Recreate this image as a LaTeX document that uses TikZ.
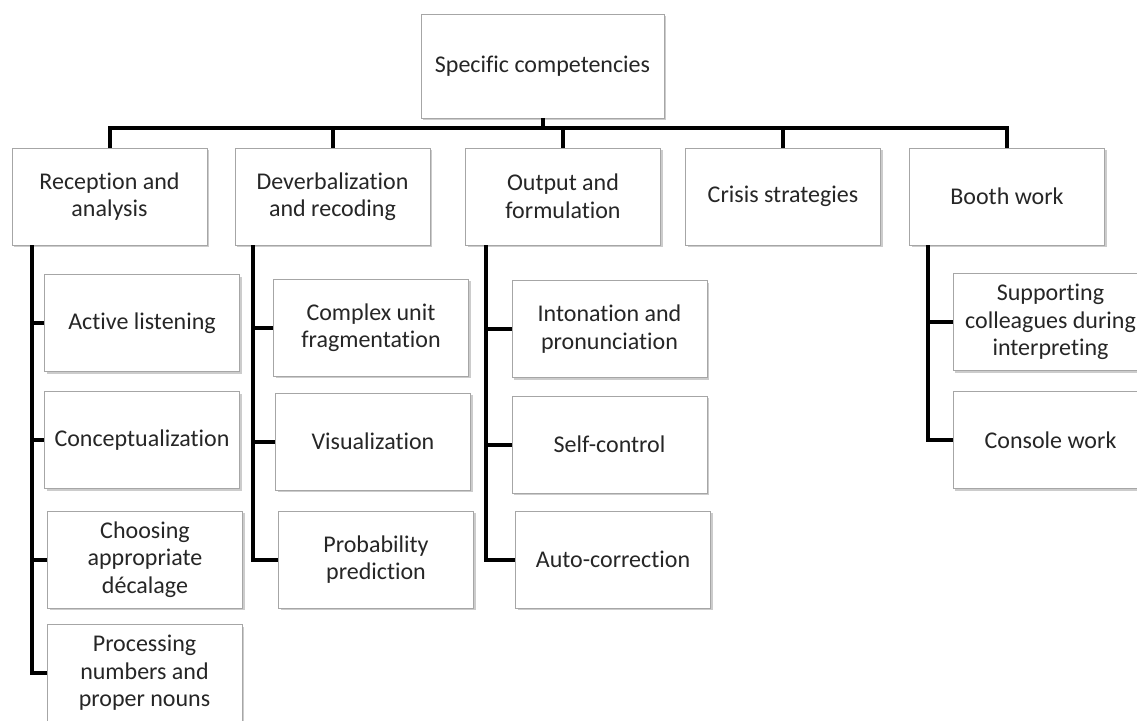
\documentclass[tikz,border=0pt]{standalone}
\usepackage{fontspec}
\setmainfont{Carlito}[Ligatures=NoCommon]
\usetikzlibrary{shadows}
\tikzset{
    box/.style={draw=gray!70, line width=0.8pt, fill=white, align=center,
        minimum width=195pt, minimum height=97pt, inner sep=2pt,
        text=black!85, font=\fontsize{24}{27.5}\selectfont,
        drop shadow={shadow xshift=2pt, shadow yshift=-2pt, fill=black, opacity=0.2}},
    branch/.style={line width=4pt, line join=miter}
}
\begin{document}
\begin{tikzpicture}[x=1pt, y=-1pt]
    \useasboundingbox (0,0) rectangle (1137,720);
    \def\Bus{128}
    % Root
    \node[box, minimum width=243pt, minimum height=104pt] (root) at (542.5,66) {Specific competencies};

    % First level
    \node[box] (rec) at (109.5,196.5) {Reception and\\analysis};
    \node[box] (dev) at (332.5,196.5) {Deverbalization\\and recoding};
    \node[box] (out) at (563,196.5) {Output and\\formulation};
    \node[box] (cri) at (783,196.5) {Crisis strategies};
    \node[box] (boo) at (1007,196.5) {Booth work};

    % Reception and analysis
    \node[box] (rec1) at (142,323) {Active listening};
    \node[box] (rec2) at (142,440) {Conceptualization};
    \node[box] (rec3) at (145,559.5) {Choosing\\appropriate\\décalage};
    \node[box] (rec4) at (144.5,673) {Processing\\numbers and\\proper nouns};

    % Deverbalization and recoding
    \node[box] (dev1) at (371,327.5) {Complex unit\\fragmentation};
    \node[box] (dev2) at (373,441.5) {Visualization};
    \node[box] (dev3) at (376,559.5) {Probability\\prediction};

    % Output and formulation
    \node[box] (out1) at (609.5,329) {Intonation and\\pronunciation};
    \node[box] (out2) at (609.5,444.5) {Self-control};
    \node[box] (out3) at (613,559.5) {Auto-correction};

    % Booth work
    \node[box] (boo1) at (1050.5,322) {Supporting\\colleagues during\\interpreting};
    \node[box] (boo2) at (1050.5,440) {Console work};

    % Bus under the root
    \coordinate (bus) at (0,\Bus);
    \draw[branch] (root.south) -- (root.south |- bus);
    \draw[branch] (rec.north) -- (rec.north |- bus) -- (boo.north |- bus) -- (boo.north);
    \foreach \n in {dev,out,cri}
        \draw[branch] (\n.north) -- (\n.north |- bus);

    % Branches to the children
    \coordinate (recb) at ([xshift=20pt]rec.south west);
    \coordinate (devb) at ([xshift=18pt]dev.south west);
    \coordinate (outb) at ([xshift=21pt]out.south west);
    \coordinate (boob) at ([xshift=19pt]boo.south west);
    \draw[branch] (recb) |- (rec4.west);
    \draw[branch] (devb) |- (dev3.west);
    \draw[branch] (outb) |- (out3.west);
    \draw[branch] (boob) |- (boo2.west);
    \foreach \n in {rec1,rec2,rec3}
        \draw[branch] (recb |- \n.west) -- (\n.west);
    \foreach \n in {dev1,dev2}
        \draw[branch] (devb |- \n.west) -- (\n.west);
    \foreach \n in {out1,out2}
        \draw[branch] (outb |- \n.west) -- (\n.west);
    \draw[branch] (boob |- boo1.west) -- (boo1.west);
\end{tikzpicture}
\end{document}
